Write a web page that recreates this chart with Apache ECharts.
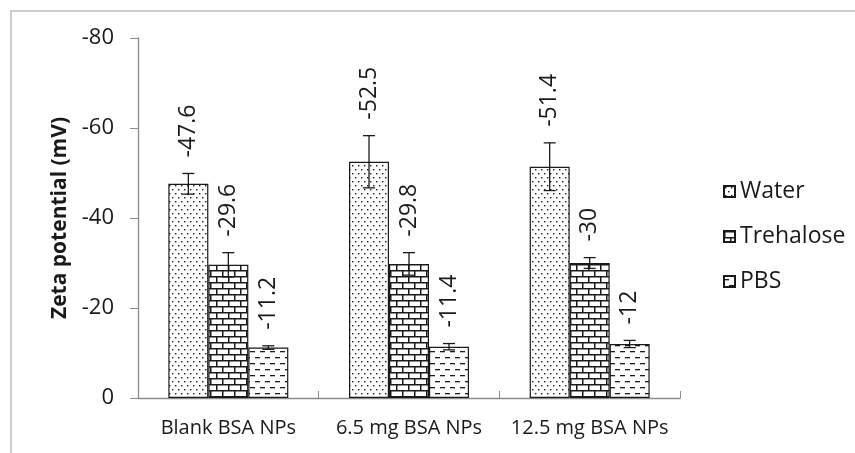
<!DOCTYPE html>
<html>
<head>
<meta charset="utf-8">
<script src="https://cdn.jsdelivr.net/npm/echarts@6/dist/echarts.min.js"></script>
<style>
  html, body { margin: 0; padding: 0; background: #fff; }
  #chart { width: 855px; height: 453px; }
</style>
</head>
<body>
<div id="chart"></div>
<script>
const categories = ['Blank BSA NPs', '6.5 mg BSA NPs', '12.5 mg BSA NPs'];
const seriesNames = ['Water', 'Trehalose', 'PBS'];
const water = [-47.6, -52.5, -51.4];
const trehalose = [-29.6, -29.8, -30];
const pbs = [-11.2, -11.4, -12];
const waterErr = [2.3, 5.8, 5.3];
const trehaloseErr = [2.7, 2.5, 1.2];
const pbsErr = [0.4, 0.7, 0.8];
const yTicks = [0, -20, -40, -60, -80];
const yTitle = 'Zeta potential (mV)';

const FONT = '"Open Sans", "Liberation Sans", sans-serif';
const INK = '#1a1a1a';
const GAP = 0.336;

// fill patterns, drawn on small canvases
const makeTile = (w, h, draw) => {
  const c = document.createElement('canvas');
  c.width = w;
  c.height = h;
  const ctx = c.getContext('2d');
  ctx.fillStyle = '#fff';
  ctx.fillRect(0, 0, w, h);
  ctx.fillStyle = INK;
  draw(ctx);
  return c;
};
const dots = makeTile(6, 8, ctx => {
  ctx.fillRect(1, 1, 1.4, 1.4);
  ctx.fillRect(4, 5, 1.4, 1.4);
});
const bricks = makeTile(12, 12, ctx => {
  ctx.fillRect(0, 0, 12, 1.5);
  ctx.fillRect(0, 6, 12, 1.5);
  ctx.fillRect(0, 1, 1.5, 5);
  ctx.fillRect(6, 7, 1.5, 5);
});
const dashes = makeTile(10, 12, ctx => {
  ctx.fillRect(0, 3, 5, 1.3);
  ctx.fillRect(5, 9, 5, 1.3);
});
const patterns = [dots, bricks, dashes];
const values = [water, trehalose, pbs];
const errors = [waterErr, trehaloseErr, pbsErr];

const errData = [];
values.forEach((vals, s) => {
  vals.forEach((v, i) => errData.push([i, s, v, errors[s][i]]));
});

const renderErr = (params, api) => {
  const cat = api.value(0);
  const s = api.value(1);
  const val = api.value(2);
  const err = api.value(3);
  const bw = api.size([1, 0])[0] * (1 - GAP) / 3;
  const x = api.coord([cat, val])[0] + (s - 1) * bw;
  const yTop = api.coord([cat, val - err])[1];
  const yBot = api.coord([cat, val + err])[1];
  const cap = 6;
  const lineStyle = {stroke: INK, lineWidth: 1.3};
  return {
    type: 'group',
    children: [
      {type: 'line', shape: {x1: x, y1: yTop, x2: x, y2: yBot}, style: lineStyle},
      {type: 'line', shape: {x1: x - cap, y1: yTop, x2: x + cap, y2: yTop}, style: lineStyle},
      {type: 'line', shape: {x1: x - cap, y1: yBot, x2: x + cap, y2: yBot}, style: lineStyle},
      {
        type: 'text',
        x: x,
        y: yTop - 16,
        rotation: Math.PI / 2,
        style: {
          text: String(val),
          fill: INK,
          font: '23px ' + FONT,
          align: 'left',
          verticalAlign: 'middle',
        },
      },
    ],
  };
};

const chart = echarts.init(document.getElementById('chart'));
chart.setOption({
  animation: false,
  backgroundColor: '#fff',
  graphic: [
    {
      type: 'polyline',
      shape: {points: [[11, 453], [11, 11], [855, 11]]},
      style: {stroke: '#bdbdbd', lineWidth: 1.5, fill: null},
    },
    {
      type: 'text',
      x: 60,
      y: 218,
      rotation: Math.PI / 2,
      style: {
        text: yTitle,
        fill: INK,
        font: 'bold 21px ' + FONT,
        align: 'center',
        verticalAlign: 'middle',
      },
    },
  ],
  grid: {left: 138, right: 175, top: 38, bottom: 55},
  legend: {
    data: seriesNames,
    orient: 'vertical',
    left: 718,
    top: 175,
    itemWidth: 11,
    itemHeight: 11,
    itemGap: 22,
    icon: 'rect',
    textStyle: {fontFamily: FONT, fontSize: 23, color: INK},
  },
  xAxis: {
    type: 'category',
    data: categories,
    axisLine: {lineStyle: {color: '#8c8c8c', width: 1.3}},
    axisTick: {show: true, inside: true, length: 7, lineStyle: {color: '#8c8c8c'}},
    axisLabel: {fontFamily: FONT, fontSize: 20, color: INK, margin: 20, interval: 0},
  },
  yAxis: {
    type: 'value',
    inverse: true,
    min: -80,
    max: 0,
    interval: 20,
    axisLine: {show: true, lineStyle: {color: '#8c8c8c', width: 1.3}},
    axisTick: {show: true, length: 8, lineStyle: {color: '#8c8c8c'}},
    splitLine: {show: false},
    axisLabel: {
      fontFamily: FONT,
      fontSize: 22,
      color: INK,
      margin: 24,
      formatter: v => (yTicks.includes(v) ? String(v) : ''),
    },
  },
  series: [
    ...seriesNames.map((name, s) => ({
      name,
      type: 'bar',
      data: values[s],
      barGap: '0%',
      barCategoryGap: (GAP * 100) + '%',
      itemStyle: {
        color: {image: patterns[s], repeat: 'repeat'},
        borderColor: INK,
        borderWidth: 1.2,
      },
    })),
    {
      type: 'custom',
      data: errData,
      encode: {x: 0, y: 2},
      renderItem: renderErr,
      z: 10,
      silent: true,
    },
  ],
});
</script>
</body>
</html>
